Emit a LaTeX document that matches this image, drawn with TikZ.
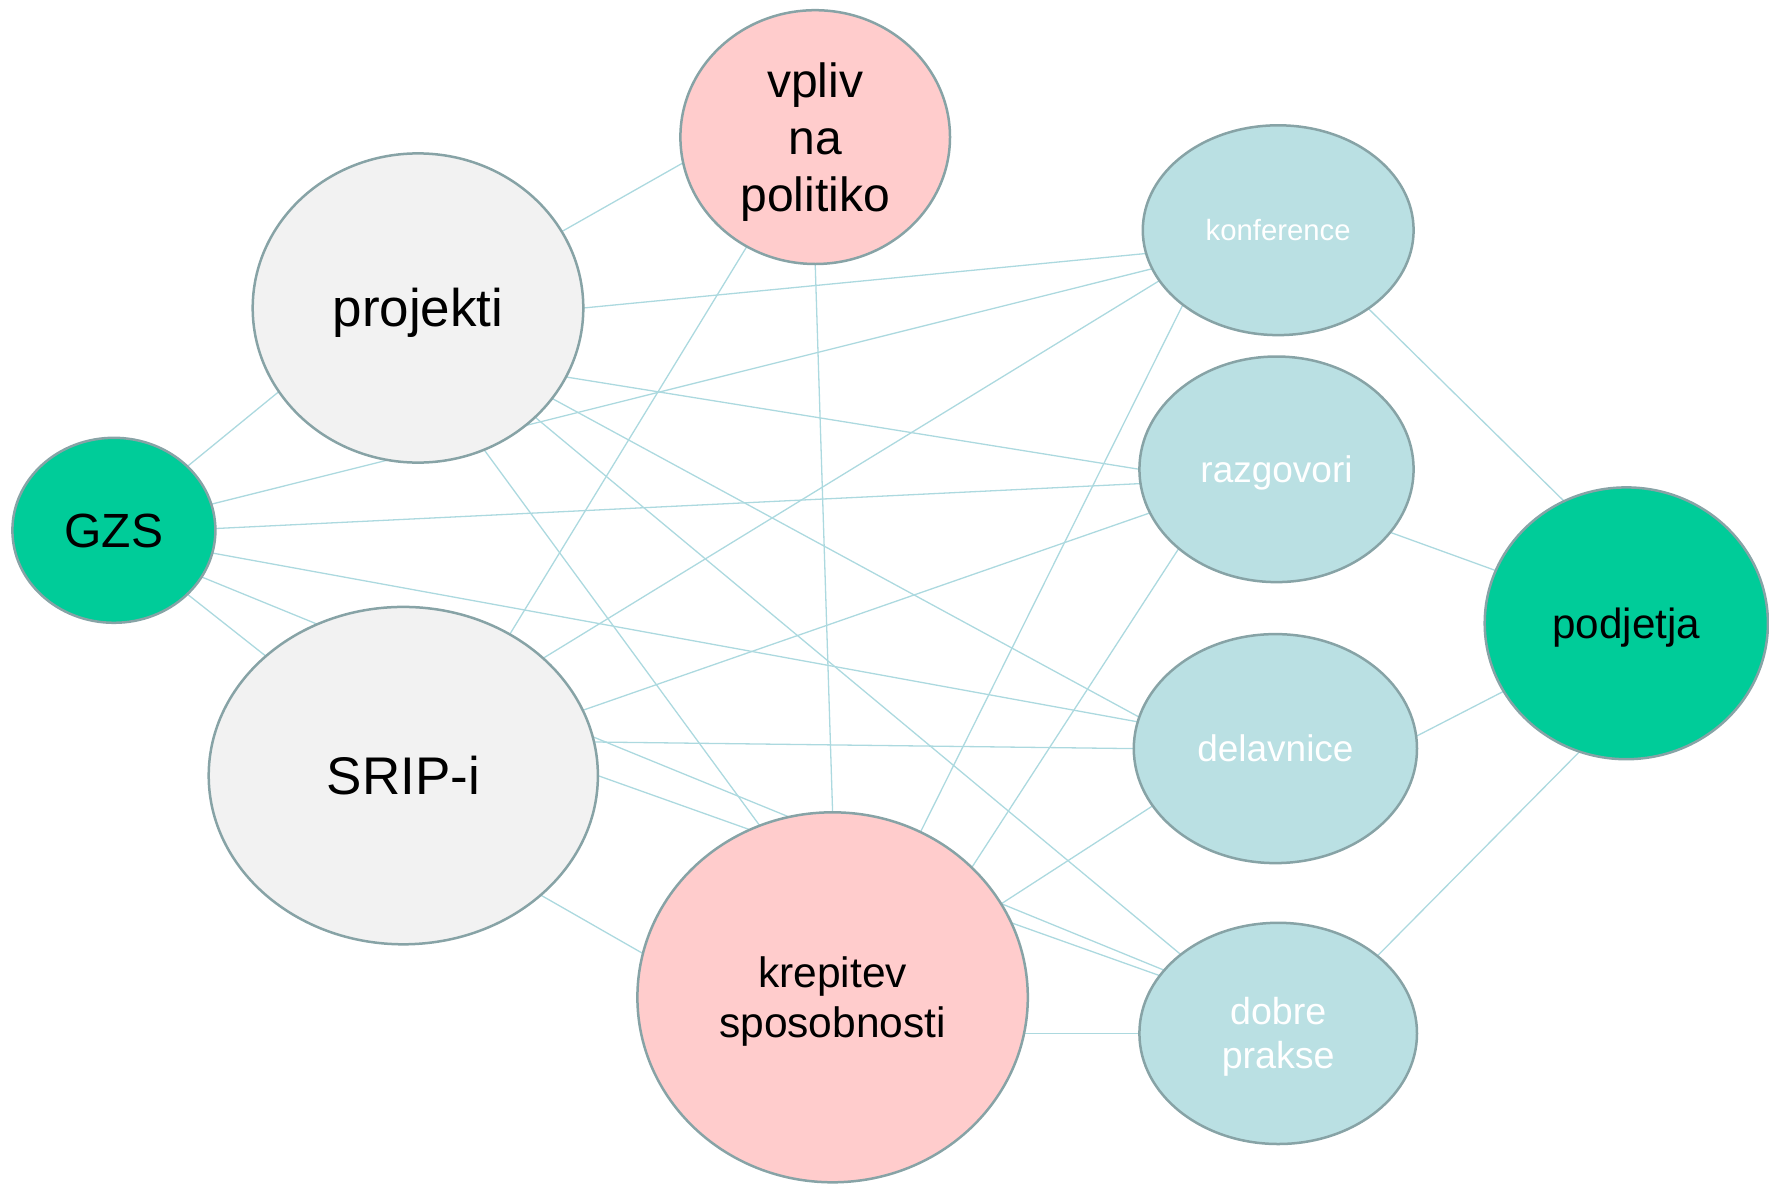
\documentclass[tikz,border=0pt]{standalone}
\usepackage{fontspec}
\setmainfont{Liberation Sans}
\usetikzlibrary{shapes.geometric,backgrounds}
\definecolor{bordc}{RGB}{135,163,166}
\definecolor{edgec}{RGB}{172,217,223}
\definecolor{pinkc}{RGB}{255,204,204}
\definecolor{greyc}{RGB}{242,242,242}
\definecolor{bluec}{RGB}{186,224,227}
\definecolor{greenc}{RGB}{0,204,153}
\newcommand{\myfs}[2]{\fontsize{#1}{#2}\selectfont}
\newcommand{\mystack}[1]{\begin{tabular}[t]{@{}c@{}}#1\end{tabular}}
\begin{document}
\begin{tikzpicture}[x=1pt,y=-1pt,
  bub/.style 2 args={ellipse,draw=bordc,line width=2.5pt,inner sep=0pt,outer sep=0pt,
    minimum width=#1pt,minimum height=#2pt,text depth=0pt},
  pinkbub/.style={fill=pinkc,text=black},
  greybub/.style={fill=greyc,text=black},
  greenbub/.style={fill=greenc,text=black},
  bluebub/.style={fill=bluec,text=white},
  edge/.style={draw=edgec,line width=1.3pt}
]
\useasboundingbox (0,0) rectangle (1769,1183);

\node[bub={269.6}{253.8},pinkbub,font=\myfs{48}{57},text height=34.4pt,text depth=114pt]
  (V) at (815.2,137.1) {\mystack{vpliv\\na\\politiko}};
\node[bub={330.6}{309.2},greybub,font=\myfs{53}{60},text height=37.9pt]
  (P) at (418,308) {projekti};
\node[bub={270.8}{209.8},bluebub,font=\myfs{29.3}{34},text height=21pt]
  (K) at (1278.2,230.2) {konference};
\node[bub={274.2}{225.6},bluebub,font=\myfs{37}{44},text height=26.5pt]
  (R) at (1276.5,469.3) {razgovori};
\node[bub={203}{185},greenbub,font=\myfs{48}{56},text height=34.4pt]
  (G) at (113.9,530.3) {GZS};
\node[bub={283.2}{271.8},greenbub,font=\myfs{42.2}{50},text height=30.2pt]
  (J) at (1626.3,623.3) {podjetja};
\node[bub={389.2}{337.4},greybub,font=\myfs{53}{60},text height=37.9pt]
  (S) at (403.3,775.6) {SRIP-i};
\node[bub={283.2}{229}, bluebub,font=\myfs{37}{44},text height=26.5pt]
  (D) at (1275.4,748.6) {delavnice};
\node[bub={390.4}{370},pinkbub,font=\myfs{42.5}{50},text height=30.4pt,text depth=50pt]
  (C) at (832.6,997.3) {\mystack{krepitev\\sposobnosti}};
\node[bub={277.6}{221.2},bluebub,font=\myfs{37.6}{44},text height=26.9pt,text depth=44pt]
  (B) at (1278.2,1033.4) {\mystack{dobre\\prakse}};

\begin{scope}[on background layer]
\draw[edge] (P.28) -- (V.191);
\draw[edge] (P.0) -- (K.190);
\draw[edge] (P.-25.6) -- (R.180);
\draw[edge] (P.-34.2) -- (D.167.9);
\draw[edge] (P.-43.7) -- (B.141);
\draw[edge] (P.-65.6) -- (C.113.1);
\draw[edge] (P.211.9) -- (G.41.9);
\draw[edge] (V.238.4) -- (S.53.6);
\draw[edge] (V.270) -- (C.90);
\draw[edge] (K.197.9) -- (G.15.7);
\draw[edge] (K.203.9) -- (S.40.5);
\draw[edge] (K.218.4) -- (C.62);
\draw[edge] (K.-41.1) -- (J.117.3);
\draw[edge] (R.186.6) -- (G.1.5);
\draw[edge] (R.199.1) -- (S.20.6);
\draw[edge] (R.219.7) -- (C.43.6);
\draw[edge] (R.-29) -- (J.158.8);
\draw[edge] (D.169.5) -- (G.-13.9);
\draw[edge] (D.180) -- (S.10.8);
\draw[edge] (D.205.2) -- (C.29.7);
\draw[edge] (D.5.2) -- (J.209.6);
\draw[edge] (B.151.7) -- (G.-28.6);
\draw[edge] (B.154.4) -- (S.0);
\draw[edge] (B.180) -- (C.center |- B.180);
\draw[edge] (B.38.6) -- (J.250.6);
\draw[edge] (S.139.1) -- (G.-41.6);
\draw[edge] (S.-41) -- (C.167.6);
\end{scope}
\end{tikzpicture}
\end{document}
